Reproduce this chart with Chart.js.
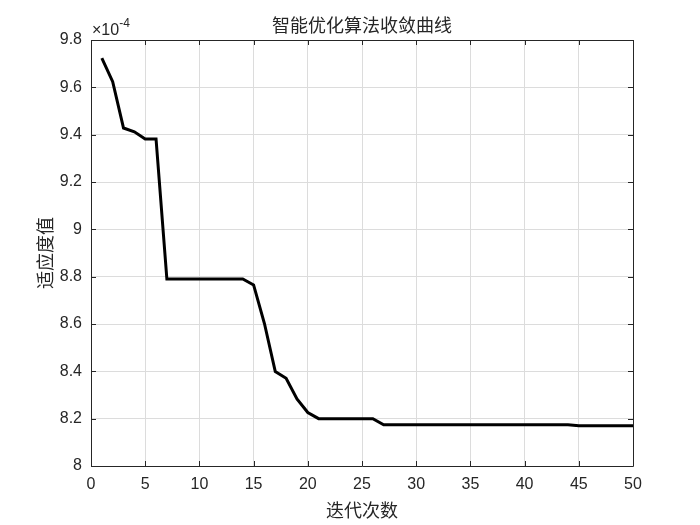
<!DOCTYPE html>
<html>
<head>
<meta charset="utf-8">
<script src="https://cdn.jsdelivr.net/npm/chart.js@4/dist/chart.umd.min.js"></script>
<style>
  html, body { margin: 0; padding: 0; background: #fff; }
  #wrap { width: 700px; height: 525px; }
</style>
</head>
<body>
<div id="wrap"><canvas id="convChart" width="700" height="525"></canvas></div>
<script>
// Datos de la curva (valores en unidades de 1e-4)
const iterations = [1, 2, 3, 4, 5, 6, 7, 8, 9, 10,
  11, 12, 13, 14, 15, 16, 17, 18, 19, 20,
  21, 22, 23, 24, 25, 26, 27, 28, 29, 30,
  31, 32, 33, 34, 35, 36, 37, 38, 39, 40,
  41, 42, 43, 44, 45, 46, 47, 48, 49, 50];
const fitness = [9.723, 9.624, 9.428, 9.412, 9.382, 9.382, 8.790, 8.790, 8.790, 8.790,
  8.790, 8.790, 8.790, 8.790, 8.765, 8.602, 8.399, 8.371, 8.283, 8.226,
  8.200, 8.200, 8.200, 8.200, 8.200, 8.200, 8.174, 8.174, 8.174, 8.174,
  8.174, 8.174, 8.174, 8.174, 8.174, 8.174, 8.174, 8.174, 8.174, 8.174,
  8.174, 8.174, 8.174, 8.174, 8.170, 8.170, 8.170, 8.170, 8.170, 8.170];
const yExponent = -4;
const xTicks = [0, 5, 10, 15, 20, 25, 30, 35, 40, 45, 50];
const yTicks = [8, 8.2, 8.4, 8.6, 8.8, 9, 9.2, 9.4, 9.6, 9.8];

const titleText = "智能优化算法收敛曲线";
const xLabel = "迭代次数";
const yLabel = "适应度值";

const axisColor = "#262626";
const cjkFont = "'Noto Sans CJK SC', 'Noto Sans', sans-serif";
const numFont = "'Liberation Sans', Arial, sans-serif";

// Caja, marcas interiores, título y exponente (estilo MATLAB)
const boxPlugin = {
  id: "boxPlugin",
  afterDraw(chart) {
    const { ctx, chartArea: a, scales } = chart;
    const len = 5;
    ctx.save();
    ctx.strokeStyle = axisColor;
    ctx.lineWidth = 1;
    ctx.beginPath();
    ctx.rect(Math.round(a.left) + 0.5, Math.round(a.top) + 0.5,
      Math.round(a.right - a.left), Math.round(a.bottom - a.top));
    ctx.stroke();
    ctx.beginPath();
    xTicks.forEach(v => {
      const x = Math.round(scales.x.getPixelForValue(v)) + 0.5;
      ctx.moveTo(x, a.bottom); ctx.lineTo(x, a.bottom - len);
      ctx.moveTo(x, a.top); ctx.lineTo(x, a.top + len);
    });
    yTicks.forEach(v => {
      const y = Math.round(scales.y.getPixelForValue(v)) + 0.5;
      ctx.moveTo(a.left, y); ctx.lineTo(a.left + len, y);
      ctx.moveTo(a.right, y); ctx.lineTo(a.right - len, y);
    });
    ctx.stroke();

    // Título centrado sobre el área del gráfico
    ctx.fillStyle = axisColor;
    ctx.textAlign = "center";
    ctx.textBaseline = "middle";
    ctx.font = "18px " + cjkFont;
    ctx.fillText(titleText, (a.left + a.right) / 2, 25);

    // ×10^-4
    ctx.textBaseline = "alphabetic";
    ctx.textAlign = "left";
    ctx.font = "16px " + numFont;
    const base = "\u00d710";
    ctx.fillText(base, a.left + 1, a.top - 5);
    const w = ctx.measureText(base).width;
    ctx.font = "12px " + numFont;
    ctx.fillText(String(yExponent), a.left + 1 + w, a.top - 13);
    ctx.restore();
  }
};

new Chart(document.getElementById("convChart").getContext("2d"), {
  type: "line",
  data: {
    labels: iterations,
    datasets: [{
      label: yLabel,
      data: iterations.map((it, i) => ({ x: it, y: fitness[i] })),
      borderColor: "#000000",
      borderWidth: 3,
      pointRadius: 0,
      tension: 0,
      fill: false,
    }],
  },
  options: {
    responsive: false,
    animation: false,
    layout: { padding: { left: 0, right: 67, top: 40, bottom: 0 } },
    plugins: {
      legend: { display: false },
      tooltip: { enabled: false },
      title: { display: false },
    },
    scales: {
      x: {
        type: "linear",
        min: 0,
        max: 50,
        afterBuildTicks(scale) { scale.ticks = xTicks.map(v => ({ value: v })); },
        afterFit(scale) { scale.height = 59; },
        grid: { color: "#dcdcdc", drawTicks: false },
        border: { display: false },
        ticks: {
          color: axisColor,
          padding: 9,
          maxRotation: 0,
          font: { family: numFont, size: 16, lineHeight: 1.2 },
        },
        title: {
          display: true,
          text: xLabel,
          color: axisColor,
          font: { family: cjkFont, size: 18, lineHeight: 1.2 },
          padding: { top: 0, bottom: 4 },
        },
      },
      y: {
        type: "linear",
        min: 8,
        max: 9.8,
        afterBuildTicks(scale) { scale.ticks = yTicks.map(v => ({ value: v })); },
        afterFit(scale) { scale.width = 91; },
        grid: { color: "#dcdcdc", drawTicks: false },
        border: { display: false },
        ticks: {
          color: axisColor,
          padding: 9,
          font: { family: numFont, size: 16, lineHeight: 1.2 },
          callback: v => String(Number(v.toFixed(1))),
        },
        title: {
          display: true,
          text: yLabel,
          color: axisColor,
          font: { family: cjkFont, size: 18, lineHeight: 1.2 },
          padding: { top: 34, bottom: 0 },
        },
      },
    },
  },
  plugins: [boxPlugin],
});
</script>
</body>
</html>
